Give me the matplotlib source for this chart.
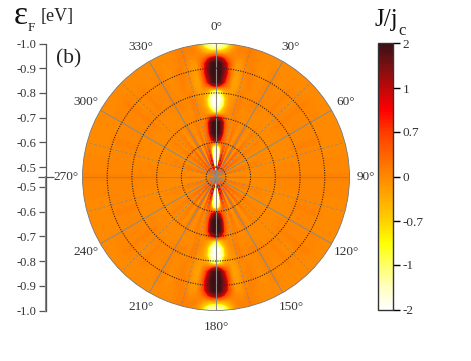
import numpy as np
import matplotlib
matplotlib.use('Agg')
import matplotlib.pyplot as plt
from matplotlib.colors import FuncNorm, LinearSegmentedColormap

plt.rcParams['font.family'] = ['Liberation Serif', 'DejaVu Serif']

# |Fermi energy| stations (radial), in eV
energy = [0.46, 0.48, 0.50, 0.52, 0.54, 0.56, 0.58, 0.595, 0.61, 0.64, 0.68, 0.70,
          0.72, 0.75, 0.78, 0.81, 0.83, 0.845, 0.885, 0.92, 0.94, 0.965, 0.985, 1.0]

# angle away from the vertical axis, pattern repeats in the 4 quadrants
angles = [0, 2, 4, 6, 8, 10, 12.5, 15, 17.5, 20, 25, 30, 35, 40, 45, 50, 60, 70, 80, 90]

# J/jc read along each angle
j_00 = [-0.2, -0.9, -2, -2, -2, -2, -1.7, -0.3, 1.5, 2, 2, 1.2, -0.9, -2, -2, -1.1, 1.1, 1.9, 2, 2, 1.3, -0.5, -1.4, -1.8]
j_02 = [-0.2, -0.8, -2, -2, -2, -2, -1.6, -0.3, 1.4, 2, 2, 1.0, -0.8, -2, -2, -1.0, 0.9, 1.8, 2, 1.9, 1.1, -0.5, -1.3, -1.6]
j_04 = [-0.1, -0.7, -2, -2, -2, -2, -1.5, -0.2, 1.1, 1.9, 1.8, 0.8, -0.6, -1.4, -1.5, -0.7, 0.5, 1.1, 1.5, 1.3, 0.7, -0.4, -1.0, -1.2]
j_06 = [0, -0.5, -2, -2, -2, -1.9, -1.2, 0, 0.9, 1.6, 1.4, 0.6, -0.4, -0.9, -0.9, -0.3, 0.2, 0.6, 0.85, 0.7, 0.3, -0.2, -0.6, -0.8]
j_08 = [0.1, 0, -1.6, -2, -1.8, -1.4, -0.7, 0.1, 0.6, 1.0, 0.8, 0.35, -0.2, -0.5, -0.5, -0.2, 0.05, 0.1, 0.2, 0.15, 0.1, 0, -0.15, -0.2]
j_10 = [0.2, 0.5, 0.2, -0.7, -1.0, -0.7, -0.2, 0.2, 0.4, 0.5, 0.35, 0.15, -0.1, -0.2, -0.2, -0.2, -0.25, -0.25, -0.2, -0.15, -0.05, 0.05, 0.05, 0]
j_12 = [0, 0.4, 0.9, 0.7, 0.5, 0.4, 0.3, 0.3, 0.2, 0.2, 0.1, 0, 0, -0.05, -0.1, -0.15, -0.2, -0.25, -0.2, -0.15, -0.1, 0, 0.05, 0.05]
j_15 = [0, 0.3, 1.0, 1.1, 0.9, 0.7, 0.5, 0.3, 0.1, 0, -0.05, 0, 0, 0.05, 0, 0, -0.05, -0.05, 0, 0, 0.05, 0.1, 0.1, 0.1]
j_17 = [0, -0.4, -0.9, -0.8, -0.6, -0.4, -0.3, -0.2, -0.15, -0.1, 0.05, 0.05, 0.05, 0.1, 0.1, 0.05, 0, 0, 0.05, 0.05, 0.05, 0.05, 0.05, 0.05]
j_20 = [0, 0.2, 0.7, 0.8, 0.6, 0.4, 0.3, 0.25, 0.2, 0.15, 0.1, 0.05, 0, -0.05, 0, 0, 0.05, 0.05, 0.05, 0.05, 0, 0, 0, 0]
j_25 = [0, -0.5, -1.0, -0.9, -0.7, -0.55, -0.4, -0.3, -0.25, -0.15, -0.1, -0.05, -0.05, 0, 0.05, 0, -0.05, -0.05, -0.05, -0.1, -0.05, -0.05, 0, 0]
j_30 = [0, 0.3, 0.6, 0.6, 0.5, 0.4, 0.3, 0.25, 0.2, 0.15, 0.1, 0.05, 0, 0, 0.05, 0.05, 0.05, 0.05, 0.05, 0.05, 0.05, 0, 0, 0]
j_35 = [0, -0.4, -0.7, -0.7, -0.55, -0.4, -0.3, -0.25, -0.2, -0.15, -0.1, -0.05, -0.05, 0, 0, 0, 0, 0, -0.05, -0.05, -0.05, 0, 0, 0]
j_40 = [0, 0.25, 0.5, 0.45, 0.35, 0.3, 0.25, 0.2, 0.15, 0.1, 0.05, 0.05, 0, 0, 0, 0.05, 0.05, 0.05, 0.05, 0.05, 0, 0, 0, 0]
j_45 = [0, -0.25, -0.5, -0.45, -0.35, -0.3, -0.25, -0.2, -0.15, -0.1, -0.05, -0.05, 0, 0, 0, 0, 0, -0.05, -0.05, 0, 0, 0, 0, 0]
j_50 = [0, 0.2, 0.35, 0.3, 0.25, 0.2, 0.15, 0.15, 0.1, 0.05, 0.05, 0, 0, 0, 0.05, 0.05, 0.05, 0.05, 0.05, 0.05, 0.05, 0, 0, 0]
j_60 = [0, -0.15, -0.3, -0.25, -0.2, -0.15, -0.1, -0.1, -0.1, -0.05, -0.05, -0.05, 0, 0, 0, 0, 0, 0, 0, 0, 0, 0, 0, 0]
j_70 = [0, 0.1, 0.2, 0.15, 0.15, 0.1, 0.1, 0.05, 0.05, 0.05, 0, 0, 0, 0, 0, 0.05, 0.05, 0.05, 0.05, 0, 0, 0, 0, 0]
j_80 = [0, -0.05, -0.1, -0.1, -0.1, -0.05, -0.05, -0.05, -0.05, -0.05, 0, 0, 0, 0, 0, 0, 0, 0, 0, 0, 0, 0, 0, 0]
j_90 = [0, 0.05, 0.1, 0.05, 0.05, 0.05, 0, 0, 0, 0, 0, 0.05, 0.05, 0.05, 0.05, 0.05, 0.05, 0.05, 0.05, 0.05, 0.05, 0.05, 0.05, 0.05]

columns = [j_00, j_02, j_04, j_06, j_08, j_10, j_12, j_15, j_17, j_20, j_25, j_30,
           j_35, j_40, j_45, j_50, j_60, j_70, j_80, j_90]

cbar_ticks = [-2, -1, -0.7, 0, 0.7, 1, 2]
cbar_labels = ['-2', '-1', '-0.7', '0', '0.7', '1', '2']
ef_ticks = [-0.5, -0.6, -0.7, -0.8, -0.9, -1.0]
angle_ticks = list(range(0, 360, 30))
dashed_angles = list(range(15, 360, 30))

# mirror one quadrant to the whole disc
quad = np.array(angles, dtype=float)
half = np.r_[quad, 180 - quad[-2::-1]]
theta = np.deg2rad(np.r_[half, 360 - half[-2::-1]])
vals = np.array(columns)
vals_half = np.vstack([vals, vals[-2::-1]])
vals_full = np.vstack([vals_half, vals_half[-2::-1]])

# colour bar ticks are evenly spaced, so the norm is piecewise
pos = np.linspace(0, 1, len(cbar_ticks))
norm = FuncNorm((lambda v: np.interp(v, cbar_ticks, pos),
                 lambda p: np.interp(p, pos, cbar_ticks)), vmin=-2, vmax=2)
cmap = LinearSegmentedColormap.from_list('jjc', [
    (0.0, '#ffffff'), (0.09, '#ffffb8'), (0.167, '#ffff66'), (0.25, '#ffff00'),
    (0.333, '#ffd000'), (0.5, '#ff8800'), (0.667, '#ff3c00'), (0.75, '#ff0000'),
    (0.833, '#c00808'), (0.92, '#781012'), (1.0, '#3c1016')], N=100)

fig = plt.figure(figsize=(4.71, 3.61), dpi=100)

ax = fig.add_axes([82.5 / 471, 50.5 / 361, 267 / 471, 267 / 361], projection='polar')
ax.set_theta_zero_location('N')
ax.set_theta_direction(-1)
levels = norm.inverse(np.linspace(0, 1, 101))
cs = ax.contourf(theta, energy, vals_full.T, levels=levels, cmap=cmap, norm=norm)
ax.set_ylim(0.46, 1.0)
ax.set_axisbelow(False)

ax.set_thetagrids(angle_ticks, [''] * len(angle_ticks))
ax.set_rgrids([abs(e) for e in ef_ticks[:-1]], labels=[])
ax.xaxis.grid(True, color='#8f8a80', linestyle='-', linewidth=0.8)
ax.yaxis.grid(True, color='#332211', linestyle=(0, (1, 1.2)), linewidth=0.8)
for a in angle_ticks:
    ax.text(np.deg2rad(a), 1.067, f'{a}\u00b0', fontsize=9.5, color='#333333',
            ha='center', va='center', clip_on=False)
for a in dashed_angles:
    ax.plot([np.deg2rad(a)] * 2, [0.46, 1.0], color='#8f8a80', lw=0.6, ls=(0, (3, 2.5)))
ax.spines['polar'].set_color('#777777')
ax.spines['polar'].set_linewidth(0.6)

# energy scale on the left, mirrored around the centre
ax_left = fig.add_axes([46 / 471, 50.5 / 361, 0.01, 267 / 361])
ax_left.patch.set_visible(False)
for s in ['top', 'right', 'bottom']:
    ax_left.spines[s].set_visible(False)
ax_left.spines['left'].set_color('#555555')
ax_left.spines['left'].set_linewidth(0.9)
ax_left.set_ylim(-0.54, 0.54)
ax_left.set_xticks([])
up = [abs(e) - 0.46 for e in ef_ticks]
ax_left.set_yticks(up + [-u for u in up])
ax_left.set_yticklabels([f'{e:.1f}' for e in ef_ticks] * 2, fontsize=9, color='#333333')
ax_left.set_yticks([0], minor=True)
ax_left.tick_params(axis='y', which='major', length=5, width=0.9, color='#555555', pad=2)
ax_left.tick_params(axis='y', which='minor', direction='inout', length=11, width=0.9, color='#555555')
ax_left.axvline(0, ymin=0, ymax=0.5, color='#8a8a8a', lw=1.5, clip_on=False)

# colour bar
cax = fig.add_axes([378 / 471, 51 / 361, 15 / 471, 267 / 361])
cb = fig.colorbar(cs, cax=cax)
cb.set_ticks(cbar_ticks)
cb.set_ticklabels(cbar_labels)
cb.ax.tick_params(length=5, width=1, labelsize=9.5, pad=2, labelcolor='#333333')
cb.ax.minorticks_off()
cb.outline.set_edgecolor('#333333')
cb.outline.set_linewidth(1.0)

# headers, placed in pixels
fig.text(21, 361 - 16, '\u03b5', transform=None, fontsize=24, ha='center', va='center', color='#111111')
fig.text(31, 361 - 28, 'F', transform=None, fontsize=9.5, ha='center', va='center', color='#222222')
fig.text(57, 361 - 17, '[eV]', transform=None, fontsize=13, ha='center', va='center', color='#222222')
fig.text(69, 361 - 59, '(b)', transform=None, fontsize=15.5, ha='center', va='center', color='#222222')
fig.text(386, 361 - 20, 'J/j', transform=None, fontsize=18, ha='center', va='center', color='#111111')
fig.text(402, 361 - 31, 'c', transform=None, fontsize=12, ha='center', va='center', color='#222222')

fig.savefig('out.png', dpi=100)
